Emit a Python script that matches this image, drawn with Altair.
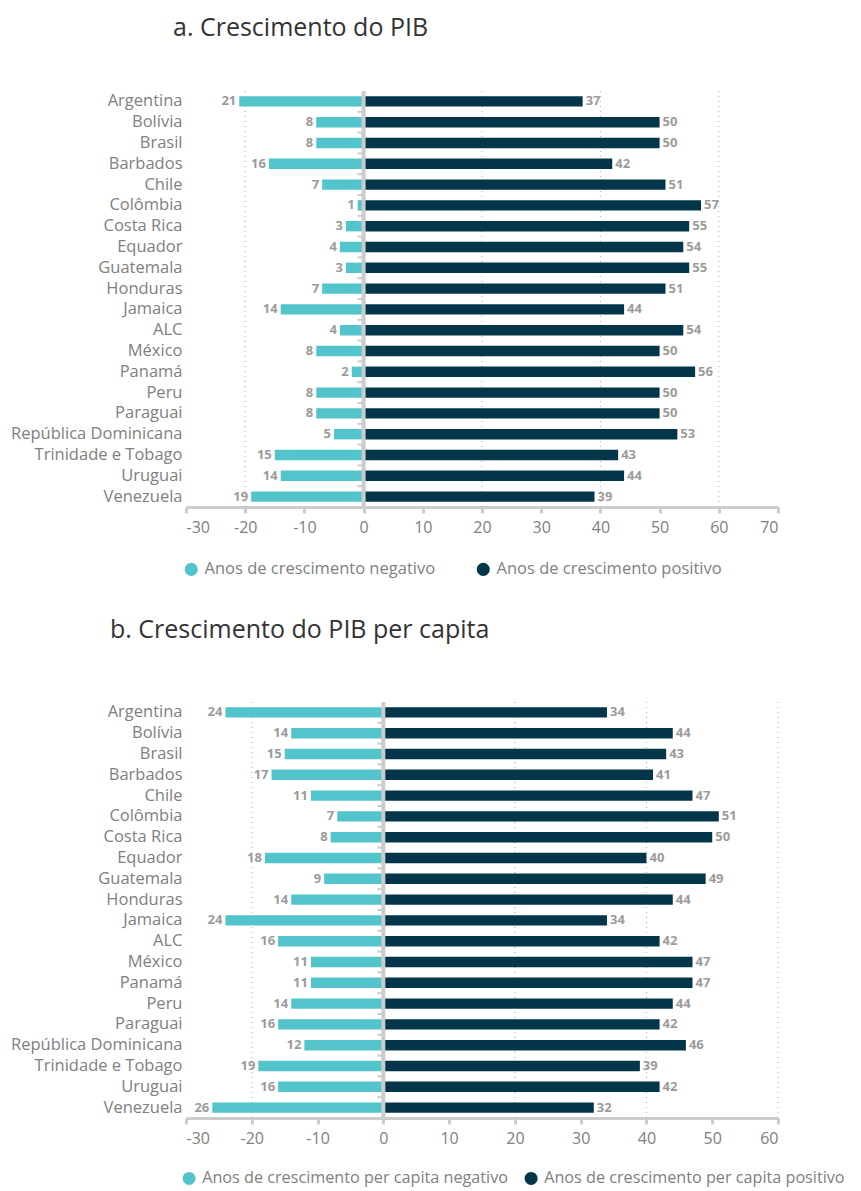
import altair as alt
import pandas as pd

countries = ["Argentina", "Bolívia", "Brasil", "Barbados", "Chile", "Colômbia",
             "Costa Rica", "Equador", "Guatemala", "Honduras", "Jamaica", "ALC",
             "México", "Panamá", "Peru", "Paraguai", "República Dominicana",
             "Trinidade e Tobago", "Uruguai", "Venezuela"]

neg_a = [21, 8, 8, 16, 7, 1, 3, 4, 3, 7, 14, 4, 8, 2, 8, 8, 5, 15, 14, 19]
pos_a = [37, 50, 50, 42, 51, 57, 55, 54, 55, 51, 44, 54, 50, 56, 50, 50, 53, 43, 44, 39]
neg_b = [24, 14, 15, 17, 11, 7, 8, 18, 9, 14, 24, 16, 11, 11, 14, 16, 12, 19, 16, 26]
pos_b = [34, 44, 43, 41, 47, 51, 50, 40, 49, 44, 34, 42, 47, 47, 44, 42, 46, 39, 42, 32]

ticks_a = [-30, -20, -10, 0, 10, 20, 30, 40, 50, 60, 70]
ticks_b = [-30, -20, -10, 0, 10, 20, 30, 40, 50, 60]
grid_vals = [-20, 20, 40, 60]

FONT = "Open Sans"
TEAL = "#53C4CB"
NAVY = "#03364A"
GRAY_TXT = "#808080"
LABEL_GRAY = "#9b9b9b"
LINE_GRAY = "#cccccc"
HEIGHT = 416
STEP = HEIGHT / 20.0


def panel(neg, pos, neg_name, pos_name, ticks, title, title_dx, title_off, col_pad,
          legend_x, legend_y, legend_fs):
    rows = []
    for i, c in enumerate(countries):
        rows.append({"country": c, "series": neg_name, "value": -neg[i], "zero": 0, "label": str(neg[i])})
        rows.append({"country": c, "series": pos_name, "value": pos[i], "zero": 0, "label": str(pos[i])})
    df = pd.DataFrame(rows)

    xscale = alt.Scale(domain=[ticks[0], ticks[-1]], nice=False, zero=False)
    ysc = alt.Scale(paddingInner=0.5, paddingOuter=0.25)
    yenc = alt.Y("country:N", sort=countries, title=None, scale=ysc,
                 axis=alt.Axis(ticks=False, domain=False, labelFont=FONT, labelFontSize=16.5,
                               labelColor=GRAY_TXT, labelPadding=4, labelLimit=0))

    base = alt.Chart(df)
    grid = alt.Chart(pd.DataFrame({"g": grid_vals})).mark_rule(
        color="#aaaaaa", strokeWidth=1, strokeDash=[1, 4]
    ).encode(x=alt.X("g:Q", scale=xscale))

    bars = base.mark_bar().encode(
        x=alt.X("value:Q", scale=xscale, title=None,
                axis=alt.Axis(values=ticks, labelExpr="'' + datum.value", grid=False,
                              domainColor=LINE_GRAY, domainWidth=3, tickColor=LINE_GRAY,
                              tickWidth=3, tickSize=6, labelFont=FONT, labelFontSize=16,
                              labelColor=GRAY_TXT, labelPadding=6)),
        x2="zero:Q",
        y=yenc,
        color=alt.Color("series:N", scale=alt.Scale(domain=[neg_name, pos_name], range=[TEAL, NAVY]),
                        legend=alt.Legend(orient="none", legendX=legend_x, legendY=legend_y,
                                          direction="horizontal", title=None, symbolType="circle",
                                          symbolSize=170, symbolStrokeWidth=0, labelFont=FONT,
                                          labelFontSize=legend_fs, labelColor=GRAY_TXT, labelLimit=0,
                                          columnPadding=col_pad, labelOffset=5)),
    )

    neg_lbl = base.transform_filter(alt.datum.value < 0).mark_text(
        align="right", baseline="middle", dx=-3, font=FONT, fontSize=13, fontWeight="bold",
        color=LABEL_GRAY
    ).encode(x=alt.X("value:Q", scale=xscale), y=alt.Y("country:N", sort=countries), text="label:N")

    pos_lbl = base.transform_filter(alt.datum.value > 0).mark_text(
        align="left", baseline="middle", dx=3, font=FONT, fontSize=13, fontWeight="bold",
        color=LABEL_GRAY
    ).encode(x=alt.X("value:Q", scale=xscale), y=alt.Y("country:N", sort=countries), text="label:N")

    zero = alt.Chart(pd.DataFrame({"z": [0]})).mark_rule(color=LINE_GRAY, strokeWidth=4).encode(
        x=alt.X("z:Q", scale=xscale))

    row_ticks = alt.Chart(pd.DataFrame({"country": countries[:-1], "z": 0})).mark_rule(
        color=LINE_GRAY, strokeWidth=2, xOffset=-6, x2Offset=0, yOffset=STEP / 2
    ).encode(x=alt.X("z:Q", scale=xscale), x2="z:Q", y=alt.Y("country:N", sort=countries))

    return alt.layer(grid, bars, row_ticks, zero, neg_lbl, pos_lbl).properties(
        width=592, height=HEIGHT,
        title=alt.TitleParams(title, anchor="start", frame="group", dx=title_dx, offset=title_off,
                              font=FONT, fontSize=25, fontWeight="normal", color="#333333"),
    )


pa = panel(neg_a, pos_a, "Anos de crescimento negativo", "Anos de crescimento positivo",
           ticks_a, "a. Crescimento do PIB", -13, 48, 39, -3, 470, 16.5)
pb = panel(neg_b, pos_b, "Anos de crescimento per capita negativo",
           "Anos de crescimento per capita positivo",
           ticks_b, "b. Crescimento do PIB per capita", -76, 57, 15, -5, 468, 16.2)

chart = alt.vconcat(pa, pb, spacing=40).resolve_scale(
    color="independent", x="independent", y="independent"
).resolve_legend(color="independent").configure_view(stroke=None).properties(
    padding={"left": 2, "top": 8, "right": 0, "bottom": 0}
)

chart.save("out.html", embed_options={"renderer": "svg", "actions": False})
